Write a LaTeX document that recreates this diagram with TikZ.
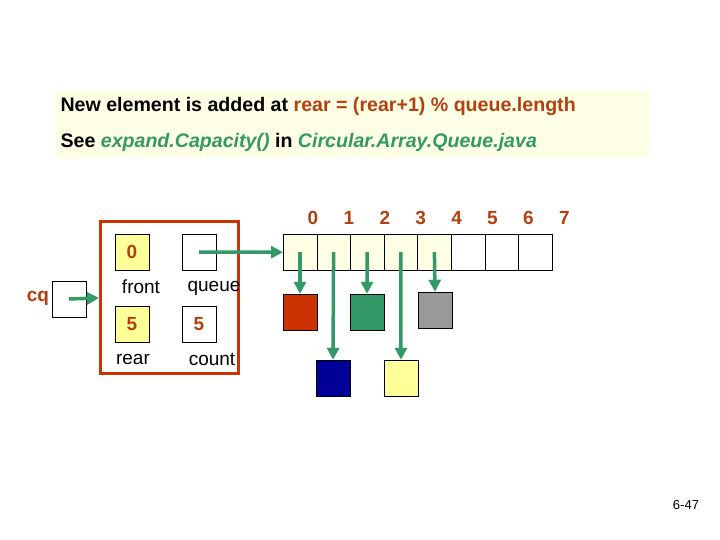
\documentclass[tikz,border=0pt]{standalone}
\usepackage{fontspec}
\setmainfont{Liberation Sans}
\usetikzlibrary{arrows.meta}
\definecolor{brn}{HTML}{B5400F}
\definecolor{grn}{HTML}{339966}
\definecolor{redb}{HTML}{CC3300}
\definecolor{pale}{HTML}{FFFFE6}
\definecolor{yel}{HTML}{FFFF99}
\begin{document}
\begin{tikzpicture}[x=1pt,y=-1pt,
  cell/.style={draw,minimum width=33.6pt,minimum height=36pt,inner sep=0pt,anchor=north west},
  box/.style={draw,minimum width=34pt,minimum height=36pt,inner sep=0pt,font=\bfseries\fontsize{19}{22}\selectfont,text=brn},
  obj/.style={draw,minimum width=34pt,minimum height=36pt,inner sep=0pt},
  lbl/.style={font=\fontsize{19}{22}\selectfont},
  idx/.style={font=\bfseries\fontsize{19}{22}\selectfont,text=brn},
  arr/.style={grn,line width=3.5pt,-{Triangle[length=12pt,width=12pt]}}]
\useasboundingbox (0,0) rectangle (720,540);
\fill[pale] (55,90) rectangle (650,158);
\node[anchor=west,font=\bfseries\fontsize{19.6}{22}\selectfont] (t1) at (57,106) {New element is added at \textcolor{brn}{rear = (rear+1) \% queue.length}};
\node[anchor=west,font=\bfseries\fontsize{19.6}{22}\selectfont] (t2) at (57,142) {See \textcolor{grn}{\itshape expand.Capacity()} in \textcolor{grn}{\itshape Circular.Array.Queue.java}};
% array
\foreach \i in {0,...,7}{
  \pgfmathsetmacro{\xx}{283+33.6*\i}
  \ifnum\i<5 \node[cell,fill=pale] (c\i) at (\xx,234) {};
  \else \node[cell] (c\i) at (\xx,234) {}; \fi
  \node[idx] (n\i) at (313+35.9*\i,218) {\i};
}
% record
\draw[redb,line width=3pt] (100,222) rectangle (238,373);
\node[box,fill=yel] (front) at (132,252) {0};
\node[box] (queue) at (199,252) {};
\node[box,fill=yel] (rear) at (132,324) {5};
\node[box] (count) at (199,324) {5};
\node[lbl] (lf) at (141,287) {front};
\node[lbl] (lq) at (214,288) {queue};
\node[lbl] (lr) at (133,359) {rear};
\node[lbl] (lc) at (212,359) {count};
\node[box] (cq) at (69,299) {};
\node[idx] (cql) at (38,298) {cq};
\coordinate (recw) at (99,298);
\draw[arr] (cq.center) -- (recw);
\draw[arr] (queue.center) -- (c0.west);
% objects
\node[obj,fill=redb] (o0) at (300,312) {};
\node[obj,fill=blue!60!black] (o1) at (333,378) {};
\node[obj,fill=grn] (o2) at (367,312) {};
\node[obj,fill=yel] (o3) at (401,378) {};
\node[obj,fill=gray!80] (o4) at (435,310) {};
\foreach \i in {0,...,4}{ \draw[arr] (c\i.center) -- (o\i.north); }
\node[font=\fontsize{13}{15}\selectfont] (pg) at (686,505) {6-47};
\end{tikzpicture}
\end{document}
